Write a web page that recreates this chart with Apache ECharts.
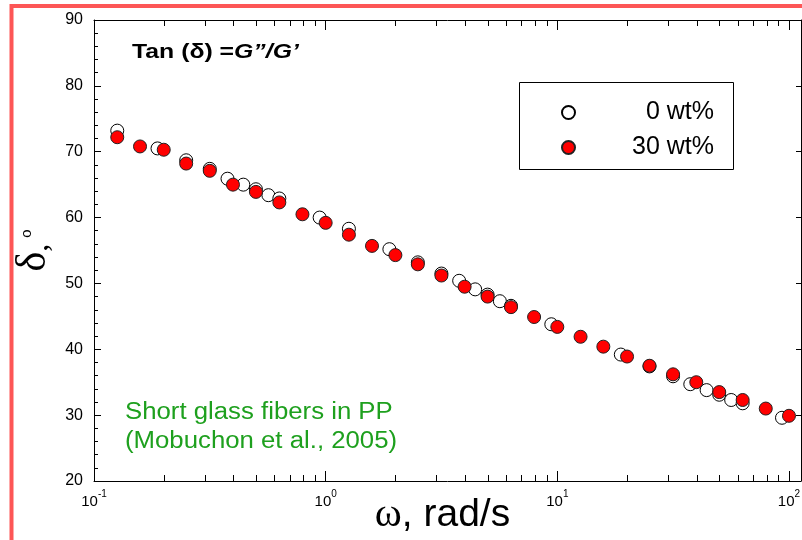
<!DOCTYPE html>
<html><head><meta charset="utf-8">
<script src="https://cdn.jsdelivr.net/npm/echarts@6/dist/echarts.min.js"></script>
<style>html,body{margin:0;padding:0;background:#fff}#c{width:802px;height:540px}</style>
</head><body><div id="c"></div>
<script>
// ---- data ----
const seriesNames = ['0 wt%', '30 wt%'];
const freq0  = [0.126, 0.188, 0.25, 0.316, 0.377, 0.441, 0.5, 0.566, 0.631, 0.942, 1.26, 1.884, 2.5, 3.16, 3.77, 4.42, 5.0, 5.65, 6.31, 9.42, 18.8, 25, 31.6, 37.5, 44.1, 50, 56.3, 63.1, 93.3];
const delta0 = [73.2, 70.5, 68.7, 67.4, 65.9, 65.0, 64.3, 63.4, 62.9, 60.0, 58.3, 55.2, 53.2, 51.5, 50.4, 49.1, 48.3, 47.3, 46.6, 43.8, 39.2, 37.4, 35.9, 34.7, 33.8, 33.1, 32.3, 31.8, 29.6];
const freq30  = [0.126, 0.158, 0.2, 0.25, 0.316, 0.398, 0.5, 0.631, 0.794, 1, 1.26, 1.585, 2, 2.5, 3.16, 3.98, 5, 6.31, 7.94, 10, 12.6, 15.8, 20, 25, 31.6, 39.8, 50, 63.1, 79.4, 100];
const delta30 = [72.2, 70.8, 70.3, 68.2, 67.1, 65.0, 63.9, 62.3, 60.5, 59.2, 57.4, 55.7, 54.3, 52.9, 51.2, 49.5, 48.0, 46.4, 44.9, 43.4, 41.9, 40.4, 38.9, 37.5, 36.2, 35.0, 33.5, 32.3, 31.0, 29.9];
const minorTicks = [0.2,0.3,0.4,0.5,0.6,0.7,0.8,0.9, 2,3,4,5,6,7,8,9, 20,30,40,50,60,70,80,90];
const xMin = 0.1, xMax = 112.7;
const yMin = 20, yMax = 90, yStep = 10;
const titleText = ['Tan (δ) =', 'G”/G’'];
const noteLines = ['Short glass fibers in PP', '(Mobuchon et al., 2005)'];

// ---- chart ----
const SANS = 'Liberation Sans';
const SERIF = 'Liberation Serif';
const chart = echarts.init(document.getElementById('c'), null, {renderer: 'canvas'});
const pairs = (xs, ys) => xs.map((x, i) => [x, ys[i]]);
const xLabelFmt = v => {
  const e = Math.log10(v);
  if (Math.abs(e - Math.round(e)) > 1e-6) return '';
  return '{b|10}{s|' + Math.round(e) + '}';
};
const xAxisCommon = {
  type: 'log', logBase: 10, min: xMin, max: xMax,
  axisLine: {show: true, lineStyle: {color: '#000', width: 1}},
  splitLine: {show: false}
};
const option = {
  animation: false,
  backgroundColor: '#fff',
  grid: {left: 94, right: 1, top: 20, bottom: 59, containLabel: false, outerBoundsMode: 'none'},
  xAxis: [
    Object.assign({}, xAxisCommon, {
      position: 'bottom',
      name: '{w|ω}{r|, rad/s}', nameLocation: 'middle', nameGap: 13, nameMoveOverlap: false,
      nameTextStyle: {padding: [0, 10, 0, 0], rich: {
        w: {fontFamily: SERIF, fontSize: 41, color: '#000', lineHeight: 42},
        r: {fontFamily: SANS, fontSize: 39, color: '#000', lineHeight: 42}
      }},
      axisTick: {show: true, inside: true, length: 10, lineStyle: {color: '#000'}},
      axisLabel: {show: true, margin: 8, formatter: xLabelFmt, rich: {
        b: {fontFamily: SANS, fontSize: 15, color: '#000', lineHeight: 20, verticalAlign: 'bottom'},
        s: {fontFamily: SANS, fontSize: 10, color: '#000', lineHeight: 20, verticalAlign: 'top'}
      }}
    }),
    Object.assign({}, xAxisCommon, {
      position: 'top',
      axisTick: {show: true, inside: true, length: 10, lineStyle: {color: '#000'}},
      axisLabel: {show: false}
    })
  ],
  yAxis: [
    {
      type: 'value', min: yMin, max: yMax, interval: yStep, position: 'left',
      name: '{d|δ}{c|,}{o|o}', nameLocation: 'middle', nameRotate: 90, nameGap: 39, nameMoveOverlap: false,
      nameTextStyle: {rich: {
        d: {fontFamily: SERIF, fontSize: 42, color: '#000', lineHeight: 40, verticalAlign: 'bottom'},
        c: {fontFamily: SERIF, fontSize: 32, color: '#000', lineHeight: 40, verticalAlign: 'bottom'},
        o: {fontFamily: SANS, fontSize: 15, color: '#000', lineHeight: 40, verticalAlign: 'top', padding: [4, 0, 0, 6]}
      }},
      axisLine: {show: true, lineStyle: {color: '#000', width: 1}},
      axisTick: {show: true, inside: true, length: 7, lineStyle: {color: '#000'}},
      minorTick: {show: true, splitNumber: 5, length: 4, lineStyle: {color: '#000'}},
      axisLabel: {fontFamily: SANS, fontSize: 16, color: '#000', margin: 11},
      splitLine: {show: false}
    },
    {
      type: 'value', min: yMin, max: yMax, interval: yStep, position: 'right',
      axisLine: {show: true, lineStyle: {color: '#000', width: 1}},
      axisTick: {show: true, inside: true, length: 5, lineStyle: {color: '#000'}},
      axisLabel: {show: false},
      splitLine: {show: false}
    }
  ],
  legend: {
    data: seriesNames,
    orient: 'vertical',
    left: 561, top: 100, padding: 0,
    itemWidth: 13, itemHeight: 13, itemGap: 10,
    selectedMode: false,
    formatter: n => '{a|' + n + '}',
    textStyle: {rich: {a: {fontFamily: SANS, fontSize: 25, color: '#000', width: 134, align: 'right'}}}
  },
  graphic: [
    {type: 'rect', z: 100, silent: true,
     shape: {x: 11.5, y: 6, width: 900, height: 700},
     style: {fill: 'none', stroke: '#fd5656', lineWidth: 4}},
    {type: 'rect', z: 5, silent: true,
     shape: {x: 519.5, y: 82.5, width: 214, height: 87},
     style: {fill: 'none', stroke: '#000', lineWidth: 1}},
    {type: 'text', z: 5, silent: true, x: 132, y: 52, scaleX: 1.24,
     style: {text: '{a|' + titleText[0] + '}{b|' + titleText[1] + '}', align: 'left', verticalAlign: 'middle',
       rich: {
         a: {fontFamily: SANS, fontSize: 20, fontWeight: 'bold', fill: '#000'},
         b: {fontFamily: SANS, fontSize: 20, fontWeight: 'bold', fontStyle: 'italic', fill: '#000'}
       }}},
    {type: 'text', z: 5, silent: true, x: 125, y: 413, scaleX: 1.12,
     style: {text: noteLines[0], fontFamily: SANS, fontSize: 23, fill: '#1ea01e', align: 'left', verticalAlign: 'middle'}},
    {type: 'text', z: 5, silent: true, x: 125, y: 442, scaleX: 1.12,
     style: {text: noteLines[1], fontFamily: SANS, fontSize: 23, fill: '#1ea01e', align: 'left', verticalAlign: 'middle'}}
  ],
  series: [
    {
      name: seriesNames[0], type: 'scatter', xAxisIndex: 0, yAxisIndex: 0, z: 3,
      symbol: 'circle', symbolSize: 13,
      itemStyle: {color: '#ffffff', borderColor: '#000', borderWidth: 1, opacity: 1},
      data: pairs(freq0, delta0)
    },
    {
      name: seriesNames[1], type: 'scatter', xAxisIndex: 0, yAxisIndex: 0, z: 4,
      symbol: 'circle', symbolSize: 13,
      itemStyle: {color: '#ff0000', borderColor: '#222', borderWidth: 1, opacity: 1},
      data: pairs(freq30, delta30)
    },
    {
      type: 'custom', xAxisIndex: 0, yAxisIndex: 0, silent: true, z: 2, clip: false,
      data: minorTicks.map(v => [v, yMin]),
      encode: {x: 0, y: 1},
      renderItem: (params, api) => {
        const v = api.value(0);
        const b = api.coord([v, yMin]);
        const t = api.coord([v, yMax]);
        const x = Math.round(b[0]) + 0.5;
        return {type: 'group', children: [
          {type: 'line', shape: {x1: x, y1: b[1], x2: x, y2: b[1] - 6}, style: {stroke: '#000', lineWidth: 1}},
          {type: 'line', shape: {x1: x, y1: t[1], x2: x, y2: t[1] + 6}, style: {stroke: '#000', lineWidth: 1}}
        ]};
      }
    }
  ]
};
chart.setOption(option);
</script>
</body></html>
